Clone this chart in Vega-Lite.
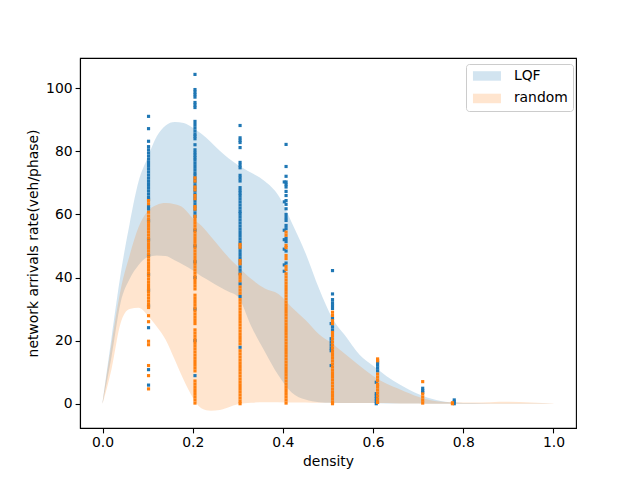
{
  "$schema": "https://vega.github.io/schema/vega-lite/v6.json",
  "width": 496,
  "height": 370,
  "autosize": {"type": "none"},
  "padding": {"left": 80, "top": 58, "right": 64, "bottom": 52},
  "background": "white",
  "config": {
    "font": "DejaVu Sans",
    "view": {"stroke": "black", "strokeWidth": 1.1},
    "axis": {
      "grid": false,
      "domainColor": "black",
      "domainWidth": 1.1,
      "tickColor": "black",
      "tickWidth": 1.1,
      "tickSize": 4.9,
      "labelFontSize": 13.9,
      "labelColor": "black",
      "labelPadding": 3,
      "titleFontSize": 13.9,
      "titleFontWeight": "normal",
      "titleColor": "black",
      "titlePadding": 5
    }
  },
  "datasets": {
    "bands": [
      {"series": "LQF", "density": 0.0, "lower": 0, "upper": 0.6},
      {"series": "LQF", "density": 0.02, "lower": 15, "upper": 21},
      {"series": "LQF", "density": 0.04, "lower": 32, "upper": 41},
      {"series": "LQF", "density": 0.06, "lower": 39.5, "upper": 57},
      {"series": "LQF", "density": 0.08, "lower": 44, "upper": 70.5},
      {"series": "LQF", "density": 0.10, "lower": 46.5, "upper": 78},
      {"series": "LQF", "density": 0.12, "lower": 47, "upper": 84.7},
      {"series": "LQF", "density": 0.14, "lower": 46.8, "upper": 88.2},
      {"series": "LQF", "density": 0.16, "lower": 45.5, "upper": 89.3},
      {"series": "LQF", "density": 0.18, "lower": 44, "upper": 89},
      {"series": "LQF", "density": 0.20, "lower": 42.3, "upper": 87.5},
      {"series": "LQF", "density": 0.22, "lower": 40.3, "upper": 85.5},
      {"series": "LQF", "density": 0.24, "lower": 38.7, "upper": 83},
      {"series": "LQF", "density": 0.26, "lower": 37, "upper": 80.2},
      {"series": "LQF", "density": 0.28, "lower": 35.5, "upper": 77.7},
      {"series": "LQF", "density": 0.30, "lower": 34, "upper": 75.7},
      {"series": "LQF", "density": 0.33, "lower": 24.5, "upper": 73.2},
      {"series": "LQF", "density": 0.36, "lower": 16.5, "upper": 70.5},
      {"series": "LQF", "density": 0.39, "lower": 9, "upper": 66},
      {"series": "LQF", "density": 0.42, "lower": 3.5, "upper": 57.3},
      {"series": "LQF", "density": 0.45, "lower": 1.3, "upper": 47.8},
      {"series": "LQF", "density": 0.48, "lower": 0.5, "upper": 36.5},
      {"series": "LQF", "density": 0.51, "lower": 0.3, "upper": 27},
      {"series": "LQF", "density": 0.54, "lower": 0.2, "upper": 21.2},
      {"series": "LQF", "density": 0.57, "lower": 0.2, "upper": 15.5},
      {"series": "LQF", "density": 0.60, "lower": 0.2, "upper": 12},
      {"series": "LQF", "density": 0.63, "lower": 0.1, "upper": 8.7},
      {"series": "LQF", "density": 0.66, "lower": 0.1, "upper": 6},
      {"series": "LQF", "density": 0.70, "lower": 0.1, "upper": 3.1},
      {"series": "LQF", "density": 0.74, "lower": 0, "upper": 1.2},
      {"series": "LQF", "density": 0.78, "lower": 0, "upper": 0.4},
      {"series": "LQF", "density": 0.82, "lower": 0, "upper": 0.2},
      {"series": "LQF", "density": 0.86, "lower": 0, "upper": 0.1},
      {"series": "LQF", "density": 0.90, "lower": 0, "upper": 0.1},
      {"series": "LQF", "density": 0.95, "lower": 0, "upper": 0.1},
      {"series": "LQF", "density": 1.0, "lower": 0, "upper": 0},
      {"series": "random", "density": 0.0, "lower": 0, "upper": 0.5},
      {"series": "random", "density": 0.02, "lower": 11, "upper": 19},
      {"series": "random", "density": 0.04, "lower": 25.5, "upper": 36},
      {"series": "random", "density": 0.06, "lower": 30, "upper": 47},
      {"series": "random", "density": 0.08, "lower": 30.4, "upper": 56},
      {"series": "random", "density": 0.10, "lower": 28, "upper": 61},
      {"series": "random", "density": 0.12, "lower": 24.5, "upper": 63},
      {"series": "random", "density": 0.14, "lower": 20.3, "upper": 63.6},
      {"series": "random", "density": 0.16, "lower": 14, "upper": 63.2},
      {"series": "random", "density": 0.18, "lower": 7.5, "upper": 62},
      {"series": "random", "density": 0.20, "lower": 2, "upper": 58.8},
      {"series": "random", "density": 0.22, "lower": -1.5, "upper": 56.3},
      {"series": "random", "density": 0.24, "lower": -2.2, "upper": 53},
      {"series": "random", "density": 0.26, "lower": -2, "upper": 49.6},
      {"series": "random", "density": 0.28, "lower": -1.1, "upper": 46.3},
      {"series": "random", "density": 0.30, "lower": -0.2, "upper": 43.5},
      {"series": "random", "density": 0.33, "lower": 0.3, "upper": 39.5},
      {"series": "random", "density": 0.36, "lower": 0.5, "upper": 36.5},
      {"series": "random", "density": 0.39, "lower": 0.5, "upper": 34.8},
      {"series": "random", "density": 0.42, "lower": 0.4, "upper": 30.5},
      {"series": "random", "density": 0.45, "lower": 0.4, "upper": 26.5},
      {"series": "random", "density": 0.48, "lower": 0.3, "upper": 22},
      {"series": "random", "density": 0.51, "lower": 0.3, "upper": 19},
      {"series": "random", "density": 0.54, "lower": 0.2, "upper": 15.5},
      {"series": "random", "density": 0.57, "lower": 0.2, "upper": 12},
      {"series": "random", "density": 0.60, "lower": 0.2, "upper": 8.8},
      {"series": "random", "density": 0.63, "lower": 0.2, "upper": 6.3},
      {"series": "random", "density": 0.66, "lower": 0.1, "upper": 4.5},
      {"series": "random", "density": 0.70, "lower": 0.1, "upper": 2.2},
      {"series": "random", "density": 0.74, "lower": 0, "upper": 0.8},
      {"series": "random", "density": 0.78, "lower": 0, "upper": 0.5},
      {"series": "random", "density": 0.82, "lower": 0, "upper": 0.4},
      {"series": "random", "density": 0.86, "lower": 0, "upper": 0.5},
      {"series": "random", "density": 0.90, "lower": 0, "upper": 0.6},
      {"series": "random", "density": 0.95, "lower": 0, "upper": 0.4},
      {"series": "random", "density": 1.0, "lower": 0, "upper": 0.1}
    ],
    "points": [
      {"series": "LQF", "density": 0.102, "rate": 91.1},
      {"series": "LQF", "density": 0.102, "rate": 87.2},
      {"series": "LQF", "density": 0.102, "rate": 83.2},
      {"series": "LQF", "density": 0.102, "rate": 81.5},
      {"series": "LQF", "density": 0.102, "rate": 80.5},
      {"series": "LQF", "density": 0.102, "rate": 79.5},
      {"series": "LQF", "density": 0.102, "rate": 78.5},
      {"series": "LQF", "density": 0.102, "rate": 77.5},
      {"series": "LQF", "density": 0.102, "rate": 76.5},
      {"series": "LQF", "density": 0.102, "rate": 75.5},
      {"series": "LQF", "density": 0.102, "rate": 74.5},
      {"series": "LQF", "density": 0.102, "rate": 73.5},
      {"series": "LQF", "density": 0.102, "rate": 72.5},
      {"series": "LQF", "density": 0.102, "rate": 71.5},
      {"series": "LQF", "density": 0.102, "rate": 70.5},
      {"series": "LQF", "density": 0.102, "rate": 69.5},
      {"series": "LQF", "density": 0.102, "rate": 68.5},
      {"series": "LQF", "density": 0.102, "rate": 67.5},
      {"series": "LQF", "density": 0.102, "rate": 66.5},
      {"series": "LQF", "density": 0.102, "rate": 65.5},
      {"series": "LQF", "density": 0.102, "rate": 64.8},
      {"series": "LQF", "density": 0.102, "rate": 62.5},
      {"series": "LQF", "density": 0.102, "rate": 61.7},
      {"series": "LQF", "density": 0.102, "rate": 58},
      {"series": "LQF", "density": 0.102, "rate": 52},
      {"series": "LQF", "density": 0.102, "rate": 47},
      {"series": "LQF", "density": 0.102, "rate": 41},
      {"series": "LQF", "density": 0.102, "rate": 36},
      {"series": "LQF", "density": 0.102, "rate": 31},
      {"series": "LQF", "density": 0.102, "rate": 24.1},
      {"series": "LQF", "density": 0.102, "rate": 10.8},
      {"series": "LQF", "density": 0.102, "rate": 5.9},
      {"series": "LQF", "density": 0.205, "rate": 104.4},
      {"series": "LQF", "density": 0.205, "rate": 99.6},
      {"series": "LQF", "density": 0.205, "rate": 98.8},
      {"series": "LQF", "density": 0.205, "rate": 98},
      {"series": "LQF", "density": 0.205, "rate": 97.2},
      {"series": "LQF", "density": 0.205, "rate": 95.5},
      {"series": "LQF", "density": 0.205, "rate": 94.7},
      {"series": "LQF", "density": 0.205, "rate": 93.9},
      {"series": "LQF", "density": 0.205, "rate": 89.5},
      {"series": "LQF", "density": 0.205, "rate": 88.5},
      {"series": "LQF", "density": 0.205, "rate": 87.5},
      {"series": "LQF", "density": 0.205, "rate": 86.5},
      {"series": "LQF", "density": 0.205, "rate": 85.5},
      {"series": "LQF", "density": 0.205, "rate": 84.8},
      {"series": "LQF", "density": 0.205, "rate": 84},
      {"series": "LQF", "density": 0.205, "rate": 82.1},
      {"series": "LQF", "density": 0.205, "rate": 80.5},
      {"series": "LQF", "density": 0.205, "rate": 79.6},
      {"series": "LQF", "density": 0.205, "rate": 78.8},
      {"series": "LQF", "density": 0.205, "rate": 78},
      {"series": "LQF", "density": 0.205, "rate": 77.2},
      {"series": "LQF", "density": 0.205, "rate": 76.2},
      {"series": "LQF", "density": 0.205, "rate": 75.2},
      {"series": "LQF", "density": 0.205, "rate": 74.2},
      {"series": "LQF", "density": 0.205, "rate": 73.2},
      {"series": "LQF", "density": 0.205, "rate": 72.4},
      {"series": "LQF", "density": 0.205, "rate": 71.4},
      {"series": "LQF", "density": 0.205, "rate": 70.4},
      {"series": "LQF", "density": 0.205, "rate": 69.4},
      {"series": "LQF", "density": 0.205, "rate": 68.4},
      {"series": "LQF", "density": 0.205, "rate": 67.4},
      {"series": "LQF", "density": 0.205, "rate": 66.4},
      {"series": "LQF", "density": 0.205, "rate": 65.4},
      {"series": "LQF", "density": 0.205, "rate": 64.4},
      {"series": "LQF", "density": 0.205, "rate": 63.4},
      {"series": "LQF", "density": 0.205, "rate": 62.4},
      {"series": "LQF", "density": 0.205, "rate": 61.4},
      {"series": "LQF", "density": 0.205, "rate": 60.4},
      {"series": "LQF", "density": 0.205, "rate": 59.4},
      {"series": "LQF", "density": 0.205, "rate": 55},
      {"series": "LQF", "density": 0.205, "rate": 50},
      {"series": "LQF", "density": 0.205, "rate": 45},
      {"series": "LQF", "density": 0.205, "rate": 40},
      {"series": "LQF", "density": 0.205, "rate": 30},
      {"series": "LQF", "density": 0.205, "rate": 20},
      {"series": "LQF", "density": 0.205, "rate": 8.9},
      {"series": "LQF", "density": 0.305, "rate": 88.2},
      {"series": "LQF", "density": 0.305, "rate": 84.3},
      {"series": "LQF", "density": 0.305, "rate": 83.5},
      {"series": "LQF", "density": 0.305, "rate": 82.8},
      {"series": "LQF", "density": 0.305, "rate": 81.2},
      {"series": "LQF", "density": 0.305, "rate": 76.5},
      {"series": "LQF", "density": 0.305, "rate": 75.6},
      {"series": "LQF", "density": 0.305, "rate": 74.8},
      {"series": "LQF", "density": 0.305, "rate": 72.4},
      {"series": "LQF", "density": 0.305, "rate": 71.5},
      {"series": "LQF", "density": 0.305, "rate": 70.6},
      {"series": "LQF", "density": 0.305, "rate": 68.5},
      {"series": "LQF", "density": 0.305, "rate": 67.6},
      {"series": "LQF", "density": 0.305, "rate": 66.8},
      {"series": "LQF", "density": 0.305, "rate": 66},
      {"series": "LQF", "density": 0.305, "rate": 65},
      {"series": "LQF", "density": 0.305, "rate": 64},
      {"series": "LQF", "density": 0.305, "rate": 63},
      {"series": "LQF", "density": 0.305, "rate": 62},
      {"series": "LQF", "density": 0.305, "rate": 61},
      {"series": "LQF", "density": 0.305, "rate": 60.3},
      {"series": "LQF", "density": 0.305, "rate": 59.3},
      {"series": "LQF", "density": 0.305, "rate": 58.3},
      {"series": "LQF", "density": 0.305, "rate": 57.3},
      {"series": "LQF", "density": 0.305, "rate": 56.3},
      {"series": "LQF", "density": 0.305, "rate": 55.3},
      {"series": "LQF", "density": 0.305, "rate": 54.3},
      {"series": "LQF", "density": 0.305, "rate": 53.3},
      {"series": "LQF", "density": 0.305, "rate": 52.3},
      {"series": "LQF", "density": 0.305, "rate": 51.3},
      {"series": "LQF", "density": 0.305, "rate": 50.3},
      {"series": "LQF", "density": 0.305, "rate": 49.3},
      {"series": "LQF", "density": 0.305, "rate": 48.3},
      {"series": "LQF", "density": 0.305, "rate": 47.3},
      {"series": "LQF", "density": 0.305, "rate": 46.3},
      {"series": "LQF", "density": 0.305, "rate": 45.3},
      {"series": "LQF", "density": 0.305, "rate": 44.3},
      {"series": "LQF", "density": 0.305, "rate": 43.3},
      {"series": "LQF", "density": 0.305, "rate": 42.3},
      {"series": "LQF", "density": 0.305, "rate": 41.2},
      {"series": "LQF", "density": 0.305, "rate": 38},
      {"series": "LQF", "density": 0.305, "rate": 34},
      {"series": "LQF", "density": 0.305, "rate": 17.9},
      {"series": "LQF", "density": 0.407, "rate": 82.2},
      {"series": "LQF", "density": 0.407, "rate": 75.2},
      {"series": "LQF", "density": 0.407, "rate": 72.1},
      {"series": "LQF", "density": 0.407, "rate": 70.3},
      {"series": "LQF", "density": 0.407, "rate": 69.5},
      {"series": "LQF", "density": 0.407, "rate": 68.7},
      {"series": "LQF", "density": 0.407, "rate": 67.3},
      {"series": "LQF", "density": 0.407, "rate": 66},
      {"series": "LQF", "density": 0.407, "rate": 64.4},
      {"series": "LQF", "density": 0.407, "rate": 63.2},
      {"series": "LQF", "density": 0.407, "rate": 61.8},
      {"series": "LQF", "density": 0.407, "rate": 60},
      {"series": "LQF", "density": 0.407, "rate": 59},
      {"series": "LQF", "density": 0.407, "rate": 58.1},
      {"series": "LQF", "density": 0.407, "rate": 56.5},
      {"series": "LQF", "density": 0.407, "rate": 55.5},
      {"series": "LQF", "density": 0.407, "rate": 52.4},
      {"series": "LQF", "density": 0.407, "rate": 51.4},
      {"series": "LQF", "density": 0.407, "rate": 48.4},
      {"series": "LQF", "density": 0.407, "rate": 44.6},
      {"series": "LQF", "density": 0.403, "rate": 70.3},
      {"series": "LQF", "density": 0.403, "rate": 64},
      {"series": "LQF", "density": 0.403, "rate": 55},
      {"series": "LQF", "density": 0.403, "rate": 52},
      {"series": "LQF", "density": 0.403, "rate": 49},
      {"series": "LQF", "density": 0.403, "rate": 44},
      {"series": "LQF", "density": 0.403, "rate": 42},
      {"series": "LQF", "density": 0.51, "rate": 42.2},
      {"series": "LQF", "density": 0.51, "rate": 34.8},
      {"series": "LQF", "density": 0.51, "rate": 33},
      {"series": "LQF", "density": 0.51, "rate": 32},
      {"series": "LQF", "density": 0.51, "rate": 31.1},
      {"series": "LQF", "density": 0.51, "rate": 30.2},
      {"series": "LQF", "density": 0.51, "rate": 27},
      {"series": "LQF", "density": 0.51, "rate": 24.4},
      {"series": "LQF", "density": 0.51, "rate": 23.4},
      {"series": "LQF", "density": 0.507, "rate": 25.4},
      {"series": "LQF", "density": 0.507, "rate": 20.6},
      {"series": "LQF", "density": 0.507, "rate": 19.6},
      {"series": "LQF", "density": 0.507, "rate": 18.6},
      {"series": "LQF", "density": 0.507, "rate": 17.6},
      {"series": "LQF", "density": 0.507, "rate": 16.8},
      {"series": "LQF", "density": 0.507, "rate": 12.1},
      {"series": "LQF", "density": 0.61, "rate": 13.1},
      {"series": "LQF", "density": 0.61, "rate": 12.2},
      {"series": "LQF", "density": 0.61, "rate": 11.3},
      {"series": "LQF", "density": 0.61, "rate": 10.4},
      {"series": "LQF", "density": 0.607, "rate": 6.8},
      {"series": "LQF", "density": 0.607, "rate": 3.2},
      {"series": "LQF", "density": 0.607, "rate": 2.4},
      {"series": "LQF", "density": 0.607, "rate": 1.6},
      {"series": "LQF", "density": 0.607, "rate": 0.8},
      {"series": "LQF", "density": 0.607, "rate": 0},
      {"series": "LQF", "density": 0.71, "rate": 4.9},
      {"series": "LQF", "density": 0.71, "rate": 4.2},
      {"series": "LQF", "density": 0.71, "rate": 3.6},
      {"series": "LQF", "density": 0.78, "rate": 1.2},
      {"series": "LQF", "density": 0.78, "rate": 0.6},
      {"series": "LQF", "density": 0.78, "rate": 0},
      {"series": "random", "density": 0.102, "rate": 64.4},
      {"series": "random", "density": 0.102, "rate": 63.4},
      {"series": "random", "density": 0.102, "rate": 60.7},
      {"series": "random", "density": 0.102, "rate": 59.5},
      {"series": "random", "density": 0.102, "rate": 58.5},
      {"series": "random", "density": 0.102, "rate": 57.5},
      {"series": "random", "density": 0.102, "rate": 56.5},
      {"series": "random", "density": 0.102, "rate": 55.5},
      {"series": "random", "density": 0.102, "rate": 54.5},
      {"series": "random", "density": 0.102, "rate": 53.5},
      {"series": "random", "density": 0.102, "rate": 52.5},
      {"series": "random", "density": 0.102, "rate": 51.5},
      {"series": "random", "density": 0.102, "rate": 50.5},
      {"series": "random", "density": 0.102, "rate": 49.5},
      {"series": "random", "density": 0.102, "rate": 48.5},
      {"series": "random", "density": 0.102, "rate": 47.5},
      {"series": "random", "density": 0.102, "rate": 46.5},
      {"series": "random", "density": 0.102, "rate": 45.5},
      {"series": "random", "density": 0.102, "rate": 44.5},
      {"series": "random", "density": 0.102, "rate": 43.5},
      {"series": "random", "density": 0.102, "rate": 42.5},
      {"series": "random", "density": 0.102, "rate": 41.5},
      {"series": "random", "density": 0.102, "rate": 40.5},
      {"series": "random", "density": 0.102, "rate": 39.5},
      {"series": "random", "density": 0.102, "rate": 38.5},
      {"series": "random", "density": 0.102, "rate": 37.5},
      {"series": "random", "density": 0.102, "rate": 36.5},
      {"series": "random", "density": 0.102, "rate": 35.5},
      {"series": "random", "density": 0.102, "rate": 34.5},
      {"series": "random", "density": 0.102, "rate": 33.5},
      {"series": "random", "density": 0.102, "rate": 32.5},
      {"series": "random", "density": 0.102, "rate": 31.5},
      {"series": "random", "density": 0.102, "rate": 30.5},
      {"series": "random", "density": 0.102, "rate": 27.9},
      {"series": "random", "density": 0.102, "rate": 26},
      {"series": "random", "density": 0.102, "rate": 19.8},
      {"series": "random", "density": 0.102, "rate": 18.7},
      {"series": "random", "density": 0.102, "rate": 12.1},
      {"series": "random", "density": 0.102, "rate": 8.9},
      {"series": "random", "density": 0.102, "rate": 4.7},
      {"series": "random", "density": 0.205, "rate": 71.6},
      {"series": "random", "density": 0.205, "rate": 70.6},
      {"series": "random", "density": 0.205, "rate": 68.7},
      {"series": "random", "density": 0.205, "rate": 67.8},
      {"series": "random", "density": 0.205, "rate": 66},
      {"series": "random", "density": 0.205, "rate": 65},
      {"series": "random", "density": 0.205, "rate": 62.5},
      {"series": "random", "density": 0.205, "rate": 61.7},
      {"series": "random", "density": 0.205, "rate": 59.4},
      {"series": "random", "density": 0.205, "rate": 58.4},
      {"series": "random", "density": 0.205, "rate": 57.4},
      {"series": "random", "density": 0.205, "rate": 56.4},
      {"series": "random", "density": 0.205, "rate": 55.4},
      {"series": "random", "density": 0.205, "rate": 54.4},
      {"series": "random", "density": 0.205, "rate": 53.4},
      {"series": "random", "density": 0.205, "rate": 52.4},
      {"series": "random", "density": 0.205, "rate": 51.4},
      {"series": "random", "density": 0.205, "rate": 50.4},
      {"series": "random", "density": 0.205, "rate": 49.4},
      {"series": "random", "density": 0.205, "rate": 48.4},
      {"series": "random", "density": 0.205, "rate": 47.4},
      {"series": "random", "density": 0.205, "rate": 46.4},
      {"series": "random", "density": 0.205, "rate": 45.4},
      {"series": "random", "density": 0.205, "rate": 44.4},
      {"series": "random", "density": 0.205, "rate": 43.4},
      {"series": "random", "density": 0.205, "rate": 42.4},
      {"series": "random", "density": 0.205, "rate": 41.4},
      {"series": "random", "density": 0.205, "rate": 40.4},
      {"series": "random", "density": 0.205, "rate": 39.4},
      {"series": "random", "density": 0.205, "rate": 38.4},
      {"series": "random", "density": 0.205, "rate": 37.4},
      {"series": "random", "density": 0.205, "rate": 36.4},
      {"series": "random", "density": 0.205, "rate": 34.4},
      {"series": "random", "density": 0.205, "rate": 33.4},
      {"series": "random", "density": 0.205, "rate": 32.4},
      {"series": "random", "density": 0.205, "rate": 31.4},
      {"series": "random", "density": 0.205, "rate": 30.4},
      {"series": "random", "density": 0.205, "rate": 29.4},
      {"series": "random", "density": 0.205, "rate": 28.4},
      {"series": "random", "density": 0.205, "rate": 27.4},
      {"series": "random", "density": 0.205, "rate": 26.4},
      {"series": "random", "density": 0.205, "rate": 25.4},
      {"series": "random", "density": 0.205, "rate": 23.4},
      {"series": "random", "density": 0.205, "rate": 22.4},
      {"series": "random", "density": 0.205, "rate": 21.4},
      {"series": "random", "density": 0.205, "rate": 20.4},
      {"series": "random", "density": 0.205, "rate": 19.4},
      {"series": "random", "density": 0.205, "rate": 18.4},
      {"series": "random", "density": 0.205, "rate": 17.4},
      {"series": "random", "density": 0.205, "rate": 16.4},
      {"series": "random", "density": 0.205, "rate": 15.4},
      {"series": "random", "density": 0.205, "rate": 14.4},
      {"series": "random", "density": 0.205, "rate": 13.4},
      {"series": "random", "density": 0.205, "rate": 12.4},
      {"series": "random", "density": 0.205, "rate": 11.4},
      {"series": "random", "density": 0.205, "rate": 10.4},
      {"series": "random", "density": 0.205, "rate": 7.2},
      {"series": "random", "density": 0.205, "rate": 6.2},
      {"series": "random", "density": 0.205, "rate": 5.2},
      {"series": "random", "density": 0.205, "rate": 4.2},
      {"series": "random", "density": 0.205, "rate": 3.2},
      {"series": "random", "density": 0.205, "rate": 2.2},
      {"series": "random", "density": 0.205, "rate": 1.2},
      {"series": "random", "density": 0.205, "rate": 0.2},
      {"series": "random", "density": 0.305, "rate": 50.5},
      {"series": "random", "density": 0.305, "rate": 49.6},
      {"series": "random", "density": 0.305, "rate": 45.4},
      {"series": "random", "density": 0.305, "rate": 44.4},
      {"series": "random", "density": 0.305, "rate": 41},
      {"series": "random", "density": 0.305, "rate": 40},
      {"series": "random", "density": 0.305, "rate": 39},
      {"series": "random", "density": 0.305, "rate": 37},
      {"series": "random", "density": 0.305, "rate": 36},
      {"series": "random", "density": 0.305, "rate": 35},
      {"series": "random", "density": 0.305, "rate": 33},
      {"series": "random", "density": 0.305, "rate": 32},
      {"series": "random", "density": 0.305, "rate": 31},
      {"series": "random", "density": 0.305, "rate": 30},
      {"series": "random", "density": 0.305, "rate": 29},
      {"series": "random", "density": 0.305, "rate": 28},
      {"series": "random", "density": 0.305, "rate": 27},
      {"series": "random", "density": 0.305, "rate": 26},
      {"series": "random", "density": 0.305, "rate": 25},
      {"series": "random", "density": 0.305, "rate": 24},
      {"series": "random", "density": 0.305, "rate": 23},
      {"series": "random", "density": 0.305, "rate": 22},
      {"series": "random", "density": 0.305, "rate": 21},
      {"series": "random", "density": 0.305, "rate": 20},
      {"series": "random", "density": 0.305, "rate": 19},
      {"series": "random", "density": 0.305, "rate": 16.8},
      {"series": "random", "density": 0.305, "rate": 15.8},
      {"series": "random", "density": 0.305, "rate": 14.8},
      {"series": "random", "density": 0.305, "rate": 13.8},
      {"series": "random", "density": 0.305, "rate": 12.8},
      {"series": "random", "density": 0.305, "rate": 11.8},
      {"series": "random", "density": 0.305, "rate": 10.8},
      {"series": "random", "density": 0.305, "rate": 9.8},
      {"series": "random", "density": 0.305, "rate": 8.8},
      {"series": "random", "density": 0.305, "rate": 7.8},
      {"series": "random", "density": 0.305, "rate": 6.8},
      {"series": "random", "density": 0.305, "rate": 5.8},
      {"series": "random", "density": 0.305, "rate": 4.8},
      {"series": "random", "density": 0.305, "rate": 3.8},
      {"series": "random", "density": 0.305, "rate": 2.8},
      {"series": "random", "density": 0.305, "rate": 1.8},
      {"series": "random", "density": 0.305, "rate": 0.8},
      {"series": "random", "density": 0.305, "rate": 0},
      {"series": "random", "density": 0.407, "rate": 54.4},
      {"series": "random", "density": 0.407, "rate": 53.4},
      {"series": "random", "density": 0.407, "rate": 50.2},
      {"series": "random", "density": 0.407, "rate": 49.5},
      {"series": "random", "density": 0.407, "rate": 47},
      {"series": "random", "density": 0.407, "rate": 46},
      {"series": "random", "density": 0.407, "rate": 43.5},
      {"series": "random", "density": 0.407, "rate": 42.5},
      {"series": "random", "density": 0.407, "rate": 41.2},
      {"series": "random", "density": 0.407, "rate": 40.2},
      {"series": "random", "density": 0.407, "rate": 39.2},
      {"series": "random", "density": 0.407, "rate": 38.2},
      {"series": "random", "density": 0.407, "rate": 37.2},
      {"series": "random", "density": 0.407, "rate": 36.2},
      {"series": "random", "density": 0.407, "rate": 35.2},
      {"series": "random", "density": 0.407, "rate": 34.2},
      {"series": "random", "density": 0.407, "rate": 33.2},
      {"series": "random", "density": 0.407, "rate": 32.2},
      {"series": "random", "density": 0.407, "rate": 31.2},
      {"series": "random", "density": 0.407, "rate": 30.2},
      {"series": "random", "density": 0.407, "rate": 29.2},
      {"series": "random", "density": 0.407, "rate": 28.2},
      {"series": "random", "density": 0.407, "rate": 27.2},
      {"series": "random", "density": 0.407, "rate": 26.2},
      {"series": "random", "density": 0.407, "rate": 25.2},
      {"series": "random", "density": 0.407, "rate": 24.2},
      {"series": "random", "density": 0.407, "rate": 23.2},
      {"series": "random", "density": 0.407, "rate": 22.2},
      {"series": "random", "density": 0.407, "rate": 21.2},
      {"series": "random", "density": 0.407, "rate": 20.2},
      {"series": "random", "density": 0.407, "rate": 19.2},
      {"series": "random", "density": 0.407, "rate": 18.2},
      {"series": "random", "density": 0.407, "rate": 17.2},
      {"series": "random", "density": 0.407, "rate": 16.2},
      {"series": "random", "density": 0.407, "rate": 15.2},
      {"series": "random", "density": 0.407, "rate": 14.2},
      {"series": "random", "density": 0.407, "rate": 13.2},
      {"series": "random", "density": 0.407, "rate": 12.2},
      {"series": "random", "density": 0.407, "rate": 11.2},
      {"series": "random", "density": 0.407, "rate": 10.2},
      {"series": "random", "density": 0.407, "rate": 9.2},
      {"series": "random", "density": 0.407, "rate": 8.2},
      {"series": "random", "density": 0.407, "rate": 7.2},
      {"series": "random", "density": 0.407, "rate": 6.2},
      {"series": "random", "density": 0.407, "rate": 5.2},
      {"series": "random", "density": 0.407, "rate": 4.2},
      {"series": "random", "density": 0.407, "rate": 3.2},
      {"series": "random", "density": 0.407, "rate": 2.2},
      {"series": "random", "density": 0.407, "rate": 1.2},
      {"series": "random", "density": 0.407, "rate": 0.2},
      {"series": "random", "density": 0.51, "rate": 29},
      {"series": "random", "density": 0.51, "rate": 28},
      {"series": "random", "density": 0.51, "rate": 26.3},
      {"series": "random", "density": 0.51, "rate": 25.4},
      {"series": "random", "density": 0.51, "rate": 22.6},
      {"series": "random", "density": 0.51, "rate": 21.6},
      {"series": "random", "density": 0.51, "rate": 20.6},
      {"series": "random", "density": 0.51, "rate": 19.6},
      {"series": "random", "density": 0.51, "rate": 18.6},
      {"series": "random", "density": 0.51, "rate": 17.6},
      {"series": "random", "density": 0.51, "rate": 16.6},
      {"series": "random", "density": 0.51, "rate": 15.6},
      {"series": "random", "density": 0.51, "rate": 14.6},
      {"series": "random", "density": 0.51, "rate": 13.6},
      {"series": "random", "density": 0.51, "rate": 12.6},
      {"series": "random", "density": 0.51, "rate": 11.6},
      {"series": "random", "density": 0.51, "rate": 10.6},
      {"series": "random", "density": 0.51, "rate": 9.6},
      {"series": "random", "density": 0.51, "rate": 8.6},
      {"series": "random", "density": 0.51, "rate": 7.6},
      {"series": "random", "density": 0.51, "rate": 6.6},
      {"series": "random", "density": 0.51, "rate": 5.6},
      {"series": "random", "density": 0.51, "rate": 4.6},
      {"series": "random", "density": 0.51, "rate": 3.6},
      {"series": "random", "density": 0.51, "rate": 2.6},
      {"series": "random", "density": 0.51, "rate": 1.6},
      {"series": "random", "density": 0.51, "rate": 0.6},
      {"series": "random", "density": 0.51, "rate": 0},
      {"series": "random", "density": 0.61, "rate": 14.2},
      {"series": "random", "density": 0.61, "rate": 13.6},
      {"series": "random", "density": 0.61, "rate": 9.4},
      {"series": "random", "density": 0.61, "rate": 8.4},
      {"series": "random", "density": 0.61, "rate": 7.4},
      {"series": "random", "density": 0.61, "rate": 6.2},
      {"series": "random", "density": 0.61, "rate": 5.4},
      {"series": "random", "density": 0.61, "rate": 4.4},
      {"series": "random", "density": 0.61, "rate": 3.4},
      {"series": "random", "density": 0.61, "rate": 2.4},
      {"series": "random", "density": 0.61, "rate": 1.4},
      {"series": "random", "density": 0.61, "rate": 0.4},
      {"series": "random", "density": 0.71, "rate": 7},
      {"series": "random", "density": 0.71, "rate": 3.1},
      {"series": "random", "density": 0.71, "rate": 2.1},
      {"series": "random", "density": 0.71, "rate": 1.1},
      {"series": "random", "density": 0.71, "rate": 0.2},
      {"series": "random", "density": 0.776, "rate": 0.3},
      {"series": "random", "density": 0.776, "rate": 0}
    ]
  },
  "layer": [
    {
      "data": {"name": "bands"},
      "mark": {"type": "area", "interpolate": "monotone", "opacity": 0.2},
      "encoding": {
        "x": {
          "field": "density",
          "type": "quantitative",
          "scale": {"domain": [-0.05, 1.05], "nice": false, "zero": false},
          "axis": {"values": [0, 0.2, 0.4, 0.6, 0.8, 1.0], "format": ".1f", "title": "density"}
        },
        "y": {
          "field": "upper",
          "type": "quantitative",
          "scale": {"domain": [-7.7, 109.6], "nice": false, "zero": false},
          "axis": {"values": [0, 20, 40, 60, 80, 100], "title": "network arrivals rate(veh/phase)"}
        },
        "y2": {"field": "lower"},
        "color": {
          "field": "series",
          "type": "nominal",
          "scale": {"domain": ["LQF", "random"], "range": ["#1f77b4", "#ff7f0e"]},
          "legend": {
            "title": null,
            "orient": "none",
            "legendX": 386,
            "legendY": 6,
            "symbolType": "M-1,-0.95H4.6V0.95H-1Z",
            "symbolSize": 100,
            "symbolOpacity": 0.2,
            "symbolStrokeWidth": 0,
            "labelFontSize": 13.9,
            "labelColor": "black",
            "labelOffset": 29,
            "padding": 5,
            "rowPadding": 7.5,
            "strokeColor": "#cccccc",
            "fillColor": "white",
            "cornerRadius": 3
          }
        }
      }
    },
    {
      "data": {"name": "points"},
      "mark": {"type": "point", "shape": "square", "filled": true, "size": 10, "opacity": 1},
      "encoding": {
        "x": {"field": "density", "type": "quantitative"},
        "y": {"field": "rate", "type": "quantitative"},
        "color": {
          "field": "series",
          "type": "nominal",
          "scale": {"domain": ["LQF", "random"], "range": ["#1f77b4", "#ff7f0e"]},
          "legend": null
        }
      }
    }
  ],
  "resolve": {"scale": {"color": "independent"}, "legend": {"color": "independent"}}
}
